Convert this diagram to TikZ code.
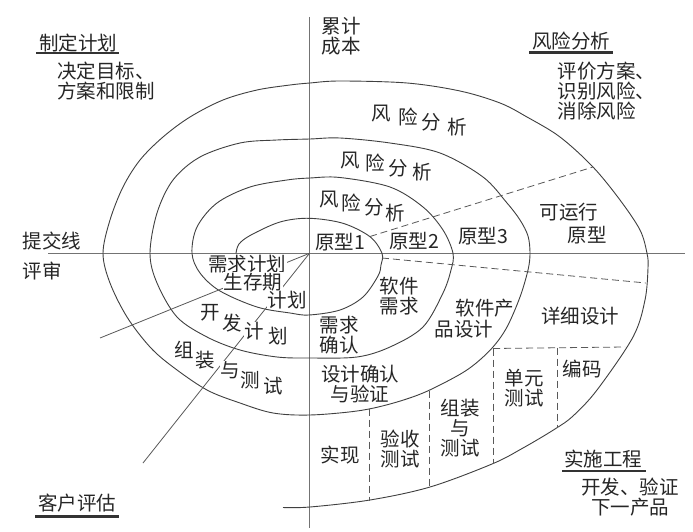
\documentclass[tikz,border=0pt]{standalone}
\usepackage{fontspec}
\setmainfont{Noto Sans CJK SC}
\begin{document}
\begin{tikzpicture}[x=1pt,y=-1pt,
  every node/.style={font=\fontsize{19.5}{20}\selectfont, inner sep=0.5pt, text=black!85},
  wb/.style={fill=white},
  spiral/.style={line width=0.9pt, draw=black!75},
  axis/.style={line width=0.9pt, draw=black!55},
  radial/.style={line width=0.8pt, draw=black!65},
  dsh/.style={line width=0.8pt, draw=black!65, dash pattern=on 7pt off 4pt},
  ul/.style={line width=2.2pt, draw=black!80}]
\fill[white] (0,0) rectangle (693,532);
\useasboundingbox (0,0) rectangle (693,532);

% axes
\coordinate (O) at (309.5,253.3);
\coordinate (vtop) at (309.5,17);
\coordinate (vbot) at (309.5,528);
\coordinate (hl) at (48,253.3);
\coordinate (hr) at (685,253.3);
\draw[axis] (vtop) -- (vbot);
\draw[axis] (hl) -- (hr);

% spiral
\draw[spiral] plot[smooth, tension=0.55] coordinates {
 (236,253.3) (239,244) (251,235) (280,222) (309,218.3) (343,223.3) (370,236.7) (382,253.3)
 (381,265) (378,276) (363,297) (340,310) (309,315) (290,313) (257,307) (220,291) (200,273) (192,253.3)
 (197,227) (217,203) (250,187) (287,180) (310,178) (340,177.5) (390,187) (423,207) (443,230) (453,253.3)
 (451,270) (443,293) (423,327) (390,347) (357,357) (310,358) (277,357) (240,350) (207,337) (177,317) (157,283) (150,253.3)
 (157,213) (173,180) (200,157) (240,143) (277,140) (310,139) (340,138) (390,143) (440,153) (483,177) (507,203) (520,220) (528,236) (530,253.3)
 (528,270) (520,297) (507,327) (493,347) (475,364) (457,376) (423,393) (390,404) (357,411) (310,415) (273,413) (240,403) (207,390) (173,367) (150,347) (127,317) (110,283) (103,253.3)
 (110,220) (123,187) (140,160) (163,137) (190,117) (223,100) (257,90) (290,85) (310,83) (340,81) (407,83) (460,91) (500,103) (527,117) (560,137) (593,167) (620,200) (640,230) (647,253.3)
 (648,268) (645,300) (633,337) (597,390) (573,416) (555,429) (523,448) (492,464) (430,487) (370,500) (310,507) (283,507.5)};

% radial lines on the left
\coordinate (la) at (100,338);
\coordinate (lb) at (143,463);
\draw[radial] (O) -- (la);
\draw[radial] (O) -- (lb);

% dashed lines
\coordinate (d1a) at (370,236.5);
\coordinate (d1b) at (593,167);
\coordinate (d2a) at (382,258);
\coordinate (d2b) at (646,283);
\coordinate (d3a) at (493,348.5);
\coordinate (d3b) at (625,347);
\coordinate (v1b) at (493,464);
\coordinate (v2a) at (557,347.5);
\coordinate (v2b) at (557,427.5);
\coordinate (v3a) at (429,390.5);
\coordinate (v3b) at (429,486.5);
\coordinate (v4a) at (369,408.5);
\coordinate (v4b) at (369,500.5);
\draw[dsh] (d1a) -- (d1b);
\draw[dsh] (d2a) -- (d2b);
\draw[dsh] (d3a) -- (d3b);
\draw[dsh] (d3a) -- (v1b);
\draw[dsh] (v2a) -- (v2b);
\draw[dsh] (v3a) -- (v3b);
\draw[dsh] (v4a) -- (v4b);

% corner labels
\node (zdjh) at (78,43) {制定计划};
\draw[ul] (36,53) -- (119,53);
\node[align=center] (jdmb) at (106,81.5) {决定目标、\\方案和限制};
\node[anchor=west, align=left] (ljcb) at (321,36.5) {累计\\成本};
\node (fxfxT) at (571,41) {风险分析};
\draw[ul] (529,52.5) -- (613,52.5);
\node[anchor=west, align=left] (pjfa) at (557,91) {评价方案、\\识别风险、\\消除风险};
\node (tjx) at (52,241) {提交线};
\node (ps) at (42,271) {评审};
\node (khpg) at (77,503) {客户评估};
\draw[ul] (35,516.5) -- (119,516.5);
\node (ssgc) at (603,459) {实施工程};
\draw[ul] (562,471) -- (646,471);
\node[align=center] (kfyz) at (630,497) {开发、验证\\下一产品};

% risk analysis labels
\node (r1a) at (381,114) {风};
\node (r1b) at (408,117) {险};
\node (r1c) at (431,122) {分};
\node (r1d) at (457,127) {析};
\node (r2a) at (350,161) {风};
\node (r2b) at (375,163) {险};
\node (r2c) at (398,168) {分};
\node (r2d) at (422,172) {析};
\node (r3a) at (329,200) {风};
\node (r3b) at (351,203) {险};
\node (r3c) at (374,207) {分};
\node (r3d) at (395,213) {析};

% prototypes
\node (yx1) at (340,242) {原型1};
\node (yx2) at (414,241) {原型2};
\node (yx3) at (483,236) {原型3};
\node (kyx) at (569,212) {可运行};
\node (kyxb) at (587,235) {原型};

% left quadrant labels
\node[wb] (xqjh) at (247,264) {需求计划};
\node[wb] (scq) at (253,282) {生存期};
\node[wb] (jh) at (287,300) {计划};
\node[wb] (kf1) at (210,313) {开};
\node[wb] (kf2) at (232,323) {发};
\node[wb] (kf3) at (254,331) {计};
\node[wb] (kf4) at (278,336) {划};
\node[wb] (zz1) at (184,350) {组};
\node[wb] (zz2) at (205,360) {装};
\node[wb] (zz3) at (230,370) {与};
\node[wb] (zz4) at (250,380) {测};
\node[wb] (zz5) at (273,386) {试};

% lower right labels
\node[align=center] (rjxq) at (399,296) {软件\\需求};
\node[align=center] (xqqr) at (339,335) {需求\\确认};
\node (rjcp) at (485,308) {软件产};
\node (pdsj) at (464,329) {品设计};
\node (xxsj) at (580,316) {详细设计};
\node[align=center] (sjqr) at (360,383.5) {设计确认\\与验证};
\node[align=center] (dycs) at (524,388) {单元\\测试};
\node (bm) at (582,369) {编码};
\node[align=center] (zzcs) at (460,428.5) {组装\\与\\测试};
\node[align=center] (yscs) at (400,448.5) {验收\\测试};
\node (sx) at (340,455) {实现};
\end{tikzpicture}
\end{document}
